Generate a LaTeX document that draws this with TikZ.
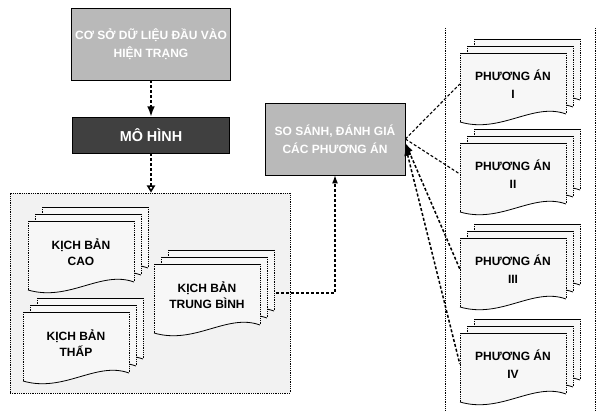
\documentclass[tikz,border=0pt]{standalone}
\usepackage{fontspec}
\setmainfont{Liberation Sans}
\usetikzlibrary{arrows.meta}

\tikzset{
  box/.style={draw, thick, align=center, text=white, font=\large\bfseries},
  link/.style={line width=1.1pt, densely dashed},
  stacktext/.style={minimum width=106pt, minimum height=70pt, align=center,
    font=\large\bfseries, yshift=4pt},
  docsheet/.pic={
    \fill[gray!6] (-53,-35) -- (53,-35) -- (53,26)
      .. controls (20,14) and (-12,46) .. (-53,34) -- cycle;
    \draw[thick] (-53,-35) -- (53,-35);
    \draw[thick, densely dotted] (53,-35) -- (53,26) (-53,-35) -- (-53,34);
    \draw[thick] (53,26) .. controls (20,14) and (-12,46) .. (-53,34);
  }
}

% three sheets, the named text node on the front one
\newcommand{\docstack}[4]{%
  \foreach \k in {2,1,0} {\pic[shift={(7*\k,-7*\k)}] at (#2,#3) {docsheet};}
  \node[stacktext] (#1) at (#2,#3) {#4};
}

\begin{document}
\begin{tikzpicture}[x=1pt, y=-1pt]
  \useasboundingbox (0,0) rectangle (599,411);

  \node[box, fill=gray!55, minimum width=152pt, minimum height=72pt] (data) at (151,44)
    {CƠ SỞ DỮ LIỆU ĐẦU VÀO\\[4pt]HIỆN TRẠNG};
  \node[box, fill=black!75, minimum width=157pt, minimum height=36pt, font=\Large\bfseries]
    (model) at (151,135) {MÔ HÌNH};
  \node[box, fill=gray!55, minimum width=140pt, minimum height=72pt] (eval) at (335,139)
    {SO SÁNH, ĐÁNH GIÁ\\[4pt]CÁC PHƯƠNG ÁN};

  % scenarios
  \node[draw, thick, densely dotted, fill=gray!10, minimum width=280pt, minimum height=200pt]
    (scen) at (150,293) {};
  \docstack{cao}{81}{256}{KỊCH BẢN\\[2pt]CAO}
  \docstack{thap}{76}{347}{KỊCH BẢN\\[2pt]THẤP}
  \docstack{tb}{207}{299}{KỊCH BẢN\\[2pt]TRUNG BÌNH}

  % alternatives
  \draw[thick, densely dotted] (445,28) -- (445,411) (595,28) -- (595,411);
  \docstack{pa1}{513}{88}{PHƯƠNG ÁN\\[4pt]I}
  \docstack{pa2}{513}{178}{PHƯƠNG ÁN\\[4pt]II}
  \docstack{pa3}{513}{273}{PHƯƠNG ÁN\\[4pt]III}
  \docstack{pa4}{513}{368}{PHƯƠNG ÁN\\[4pt]IV}

  \draw[link, line width=1.6pt, -{Latex}] (data) -- (model);
  \draw[link, line width=1.6pt, -{Triangle[open]}] (model) -- (model.south |- scen.north);
  \draw[link, -{Latex}] ([xshift=16pt, yshift=2pt]tb.east) -| (eval.south);
  \draw[link] (eval.east) -- (pa1.west);
  \draw[link] (eval.east) -- (pa2.west);
  \draw[link, line width=1.5pt, {Latex}-] ([yshift=-4pt]eval.east) -- (pa3.west);
  \draw[link, line width=1.5pt, {Latex}-] ([yshift=-7pt]eval.east) -- (pa4.west);
\end{tikzpicture}
\end{document}
